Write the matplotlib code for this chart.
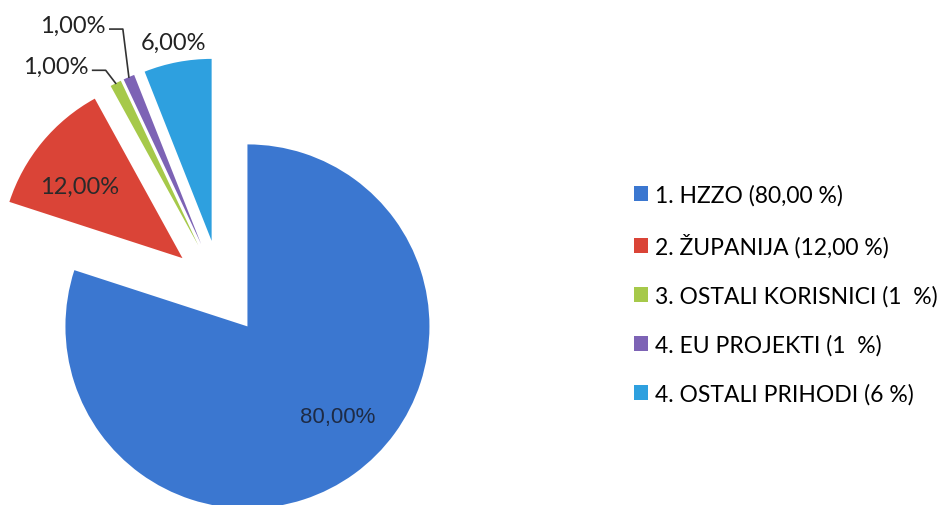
import numpy as np
import matplotlib
matplotlib.use("Agg")
import matplotlib.pyplot as plt

# ---- data ----
categories = ["1. HZZO (80,00 %)", "2. ŽUPANIJA (12,00 %)", "3. OSTALI KORISNICI (1  %)",
              "4. EU PROJEKTI (1  %)", "4. OSTALI PRIHODI (6 %)"]
values = [80.0, 12.0, 1.0, 1.0, 6.0]
pct_labels = ["80,00%", "12,00%", "1,00%", "1,00%", "6,00%"]

# ---- style ----
colors = ["#3B77D0", "#DA4437", "#A6C94A", "#7D63B5", "#2EA0DF"]
W, H = 944, 506
center_img = (221, 291)
radius = 182
explode = [45, 50, 50, 50, 50]
font = ["Lato", "DejaVu Sans"]
fs = 17
lfs = 16.5

plt.rcParams['font.family'] = font
fig = plt.figure(figsize=(W / 100, H / 100), dpi=100)
ax = fig.add_axes([0, 0, 1, 1])
ax.set_xlim(0, W)
ax.set_ylim(0, H)
ax.axis("off")

wedges, _ = ax.pie(values, colors=colors, startangle=90, counterclock=False,
                   explode=explode, radius=radius,
                   center=(center_img[0], H - center_img[1]),
                   wedgeprops=dict(linewidth=0))
ax.set_xlim(0, W)
ax.set_ylim(0, H)
ax.set_aspect("equal")


def polar(w, frac, ang_deg):
    cx, cy = w.center
    a = np.deg2rad(ang_deg)
    return cx + frac * w.r * np.cos(a), cy + frac * w.r * np.sin(a)


def mid(w):
    return 0.5 * (w.theta1 + w.theta2)


# inside labels
x, y = polar(wedges[0], 0.70, mid(wedges[0]) + 9)
ax.text(x, y, pct_labels[0], ha="center", va="center", fontsize=fs - 1, color="#1E2B45",
        family=["Liberation Sans", "DejaVu Sans"])
x, y = polar(wedges[1], 0.69, mid(wedges[1]) + 5)
ax.text(x, y, pct_labels[1], ha="center", va="center", fontsize=fs, color="#2a2a2a")
# outside label for last slice
x, y = polar(wedges[4], 1.11, mid(wedges[4]))
ax.text(x, y, pct_labels[4], ha="center", va="center", fontsize=fs, color="#222222")

# small slices with leader lines (offsets in px from outer tip)
leaders = {2: [(-10, 13), (-23, 13)], 3: [(-6, 48), (-19, 48)]}
for i, pts in leaders.items():
    tx, ty = polar(wedges[i], 1.0, mid(wedges[i]))
    xs = [tx] + [tx + dx for dx, dy in pts]
    ys = [ty] + [ty + dy for dx, dy in pts]
    ax.plot(xs, ys, color="#333333", lw=1.2)
    ax.text(xs[-1] - 4, ys[-1] + 4, pct_labels[i], ha="right", va="center",
            fontsize=fs, color="#222222")

# legend
ax.legend(wedges, categories, loc="upper left", bbox_to_anchor=(634 / W, 1 - 185 / H),
          frameon=False, fontsize=lfs, handlelength=0.62, handleheight=0.62,
          handletextpad=0.3, labelspacing=1.2, borderpad=0, borderaxespad=0)

fig.savefig("out.png", dpi=100)
